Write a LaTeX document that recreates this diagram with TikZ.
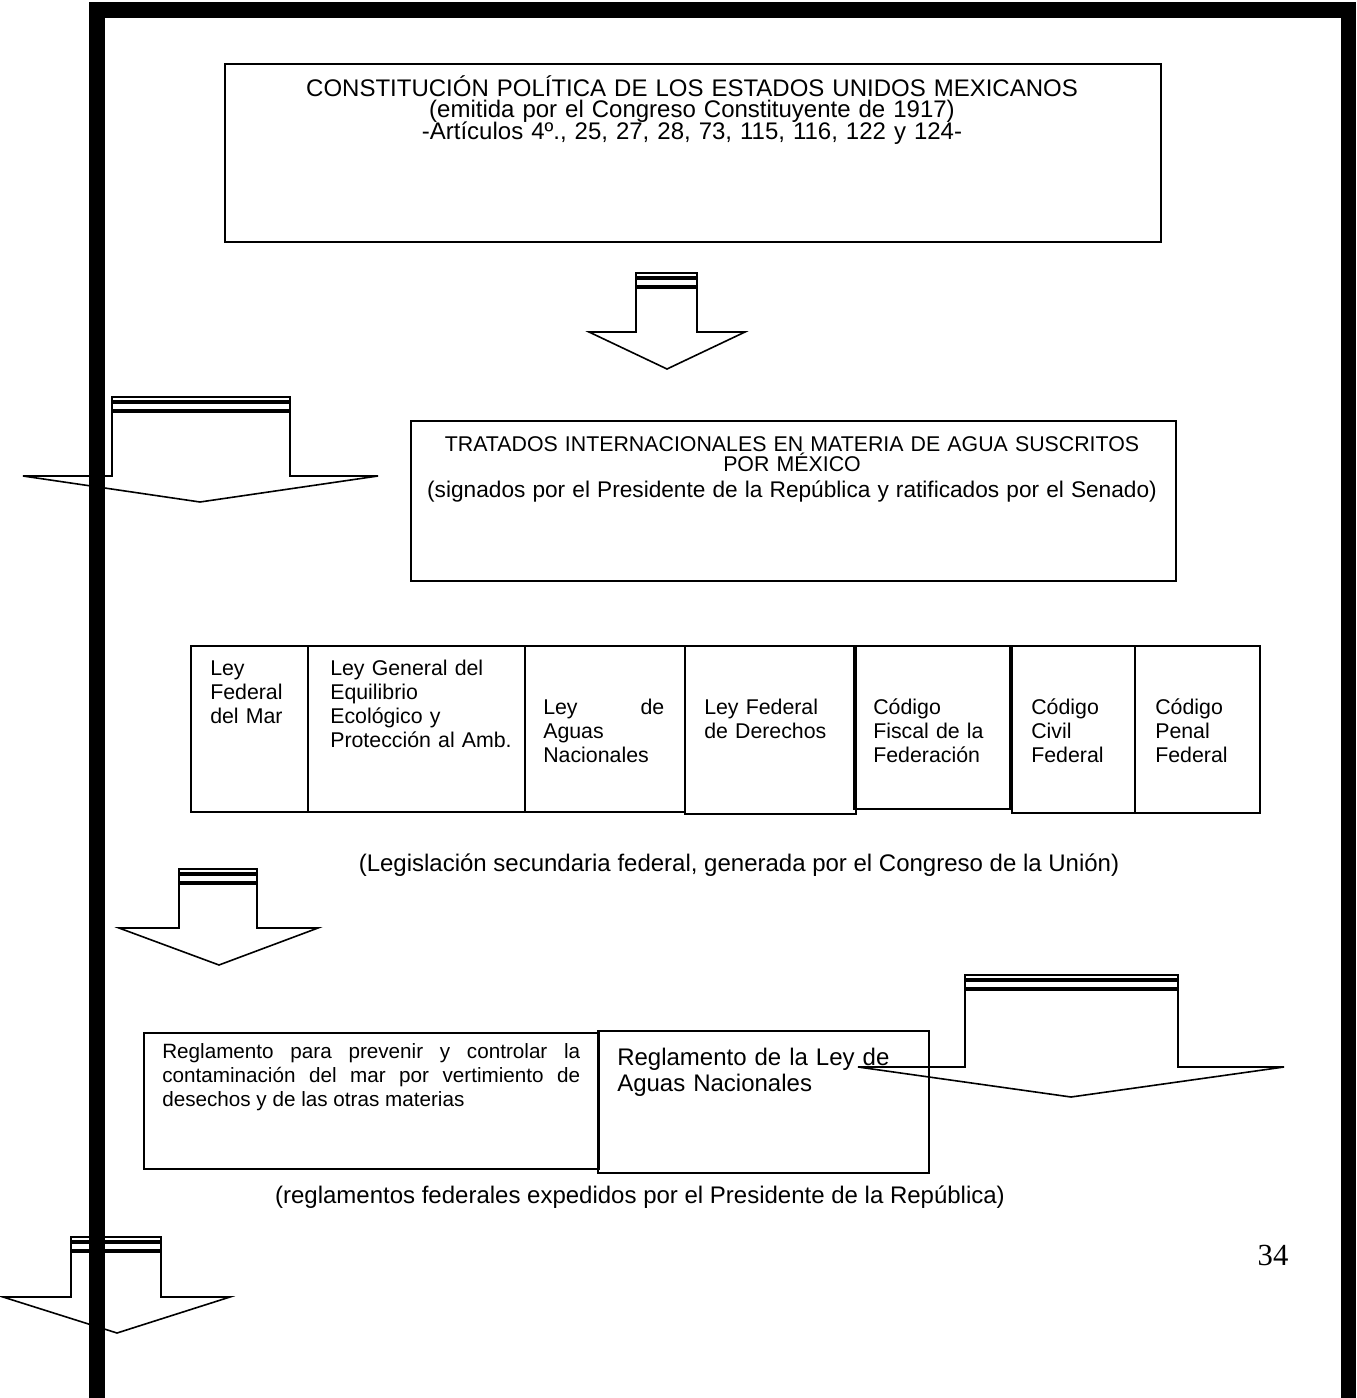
\documentclass[tikz,border=0pt]{standalone}
\usepackage{fontspec}
\setmainfont{Liberation Sans}
\newfontfamily\numfont{Liberation Serif}
\usepackage{tikz}
\hyphenpenalty=10000

% flecha de bloque con dos franjas: franja, lado izq., lado der., hombro, ala izq., ala der., punta x, punta y
\newcommand{\flechabloque}[8]{%
  \draw[flecha] (#2,#1) rectangle (#3,#1+4);
  \draw[flecha] (#2,#1+6) rectangle (#3,#1+13);
  \draw[flecha] (#2,#1+15) -- (#2,#4) -- (#5,#4) -- (#7,#8) -- (#6,#4) -- (#3,#4) -- (#3,#1+15) -- cycle;
}

\begin{document}
\begin{tikzpicture}[x=0.75pt,y=-0.75pt,
  caja/.style={draw,line width=1.2pt,rectangle,anchor=north west,inner sep=0pt},
  flecha/.style={line width=1.2pt,line join=miter},
  titulo/.style={anchor=base,align=center,inner sep=0pt},
  celda/.style={anchor=base west,align=left,inner sep=0pt,font=\fontsize{16}{18}\selectfont},
  nota/.style={anchor=base,inner sep=0pt,font=\fontsize{18}{20}\selectfont}]

  \useasboundingbox (0,0) rectangle (1356,1398);

  % marco de la pagina
  \fill (89,2) rectangle (105,1398);
  \fill (89,2) rectangle (1356,18);
  \fill (1341,2) rectangle (1356,1398);

  \node[caja, minimum width=702pt, minimum height=133.5pt] (constitucion) at (224,63) {};
  \node[titulo, text width=702pt, font=\fontsize{18}{15.5}\selectfont] (tconstitucion) at (692,97)
    {CONSTITUCIÓN POLÍTICA DE LOS ESTADOS UNIDOS MEXICANOS\\(emitida por el Congreso Constituyente de 1917)\\[-1.5pt]-Artículos 4º., 25, 27, 28, 73, 115, 116, 122 y 124-};

  \node[caja, minimum width=573.75pt, minimum height=120pt] (tratados) at (410,420) {};
  \node[titulo, text width=573.75pt, font=\fontsize{16}{15.5}\selectfont] (ttratados) at (792,451)
    {TRATADOS INTERNACIONALES EN MATERIA DE AGUA SUSCRITOS\\POR MÉXICO\\[4pt]{\fontsize{17}{15.5}\selectfont(signados por el Presidente de la República y ratificados por el Senado)}};

  \node[caja, minimum width=87.75pt, minimum height=124.5pt] (mar) at (190,645) {};
  \node[caja, minimum width=162.75pt, minimum height=124.5pt] (equilibrio) at (307,645) {};
  \node[caja, minimum width=120pt, minimum height=124.5pt] (aguas) at (524,645) {};
  \node[caja, minimum width=128.25pt, minimum height=126pt] (derechos) at (684,645) {};
  \node[caja, minimum width=117pt, minimum height=122.25pt] (fiscal) at (853,645) {};
  \node[caja, minimum width=92.25pt, minimum height=125.25pt] (civil) at (1011,645) {};
  \node[caja, minimum width=93.75pt, minimum height=125.25pt] (penal) at (1134,645) {};

  \node[celda, text width=75pt] (tmar) at (210,675) {Ley\\Federal\\del Mar};
  \node[celda, text width=150pt] (tequilibrio) at (330,675) {Ley General del\\Equilibrio\\Ecológico y\\Protección al Amb.};
  \node[celda, text width=90.75pt] (taguas) at (543,714) {Ley\hfill de\\Aguas\\Nacionales};
  \node[celda, text width=110pt] (tderechos) at (704,714) {Ley Federal\\de Derechos};
  \node[celda, text width=100pt] (tfiscal) at (873,714) {Código\\Fiscal de la\\Federación};
  \node[celda, text width=80pt] (tcivil) at (1031,714) {Código\\Civil\\Federal};
  \node[celda, text width=80pt] (tpenal) at (1155,714) {Código\\Penal\\Federal};

  \node[nota] (secundaria) at (739,871) {(Legislación secundaria federal, generada por el Congreso de la Unión)};

  \node[caja, minimum width=341.25pt, minimum height=102pt] (vertimiento) at (143,1032) {};
  \node[caja, minimum width=248.25pt, minimum height=106.5pt] (reglamento) at (597,1030) {};
  \node[anchor=base west, inner sep=0pt, text width=313.5pt, align=justify,
    font=\fontsize{15.5}{18}\selectfont] (tvertimiento) at (162,1058)
    {\tolerance=10000 Reglamento para prevenir y controlar la contaminación del mar por vertimiento de desechos y de las otras materias};
  \node[anchor=base west, inner sep=0pt, text width=240pt, align=left, font=\fontsize{18}{19.5}\selectfont] (treglamento) at (617,1065)
    {Reglamento de la Ley de\\Aguas Nacionales};

  \node[nota] (federales) at (640,1203) {(reglamentos federales expedidos por el Presidente de la República)};

  \node[anchor=base, inner sep=0pt, font=\numfont\fontsize{23}{23}\selectfont] (pagina) at (1273,1265) {34};

  % flechas
  \flechabloque{273}{636}{697}{332}{589}{745}{667}{369}
  \flechabloque{397}{112}{290}{476}{23}{378}{200}{502}
  \flechabloque{869}{179}{257}{928}{119}{318}{219}{965}
  \flechabloque{975}{965}{1178}{1067}{858}{1284}{1071}{1097}
  \flechabloque{1237}{71}{161}{1297}{3}{230}{117}{1333}
\end{tikzpicture}
\end{document}
